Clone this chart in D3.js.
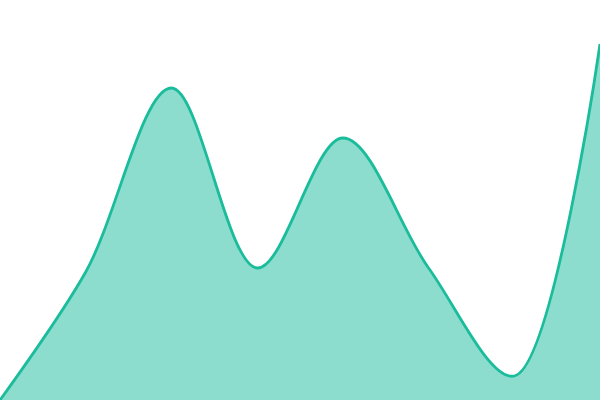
<!DOCTYPE html>
<html lang="en">
<head>
  <meta charset="UTF-8">
  <title>Area chart</title>
  <style>
    body { margin: 0; background: #fff; }
    svg { display: block; }
  </style>
  <script src="https://d3js.org/d3.v7.min.js"></script>
</head>
<body>
  <svg id="chart" width="600" height="400"></svg>
  <script>
    // values (units of the y scale below)
    const steps = [0, 1, 2, 3, 4, 5, 6, 7];
    const values = [0, 32, 78, 33, 65.5, 33, 6, 89];

    const width = 600, height = 400;
    const svg = d3.select('#chart');

    const x = d3.scaleLinear().domain([0, steps.length - 1]).range([0, width]);
    const y = d3.scaleLinear().domain([0, 100]).range([height, 0]);

    const data = steps.map((s, i) => ({ s, v: values[i] }));

    // filled area
    const area = d3.area()
      .x(d => x(d.s))
      .y0(height)
      .y1(d => y(d.v))
      .curve(d3.curveCatmullRom);

    svg.append('path')
      .datum(data)
      .attr('d', area)
      .attr('fill', '#1abc9c')
      .attr('fill-opacity', 0.5);

    // outline on top
    const line = d3.line()
      .x(d => x(d.s))
      .y(d => y(d.v))
      .curve(d3.curveCatmullRom);

    svg.append('path')
      .datum(data)
      .attr('d', line)
      .attr('fill', 'none')
      .attr('stroke', '#1abc9c')
      .attr('stroke-width', 2.8);
  </script>
</body>
</html>
